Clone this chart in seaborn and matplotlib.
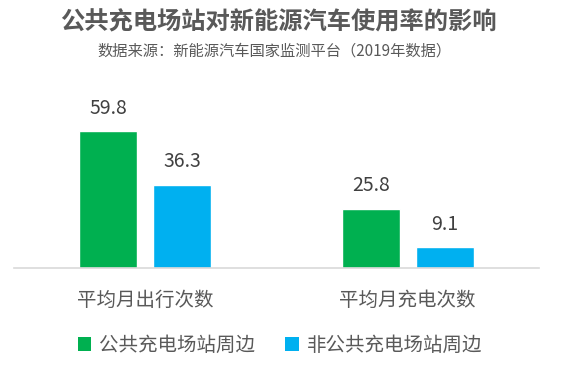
import matplotlib
matplotlib.use("Agg")
import matplotlib.pyplot as plt
import seaborn as sns
import pandas as pd
from matplotlib.patches import Patch

# data
categories = ["平均月出行次数", "平均月充电次数"]
series = ["公共充电场站周边", "非公共充电场站周边"]
near_public = [59.8, 25.8]
not_near_public = [36.3, 9.1]
colors = ["#00B050", "#00B0F0"]

df = pd.DataFrame({
    "category": categories * 2,
    "series": [series[0]] * 2 + [series[1]] * 2,
    "value": near_public + not_near_public,
})

sns.set_theme(style="white")
plt.rcParams["font.family"] = ["Noto Sans CJK SC", "DejaVu Sans"]

fig = plt.figure(figsize=(5.67, 3.66), dpi=100)
ax = fig.add_axes([14 / 567, 98 / 366, 525 / 567, 178 / 366])

sns.barplot(data=df, x="category", y="value", hue="series", order=categories,
            hue_order=series, palette=colors, width=0.564, gap=0.22,
            saturation=1, legend=False, ax=ax)

for cont in ax.containers:
    ax.bar_label(cont, fmt="%.1f", padding=9, fontsize=14, color="#404040")

ax.set_xlim(-0.5, 1.5)
ax.set_ylim(0, 77.7)
ax.set_xlabel("")
ax.set_ylabel("")
ax.set_yticks([])
for s in ["top", "right", "left"]:
    ax.spines[s].set_visible(False)
ax.spines["bottom"].set_color("#D9D9D9")
ax.spines["bottom"].set_linewidth(1.2)
ax.tick_params(axis="x", length=0, pad=16, labelsize=14, labelcolor="#595959")

fig.text(278 / 567, 1 - 22 / 366, "公共充电场站对新能源汽车使用率的影响", ha="center", va="center",
         fontsize=17.5, fontweight="bold", color="#595959")
fig.text(274 / 567, 1 - 51 / 366, "数据来源：新能源汽车国家监测平台（2019年数据）", ha="center", va="center",
         fontsize=11, color="#595959")

handles = [Patch(facecolor=c, edgecolor="none") for c in colors]
fig.legend(handles, series, loc="center", bbox_to_anchor=(280 / 567, 1 - 345 / 366),
           ncol=2, frameon=False, fontsize=14, labelcolor="#595959",
           handlelength=0.7, handleheight=0.7, handletextpad=0.4, columnspacing=1.55)

fig.savefig("out.png", dpi=100)
